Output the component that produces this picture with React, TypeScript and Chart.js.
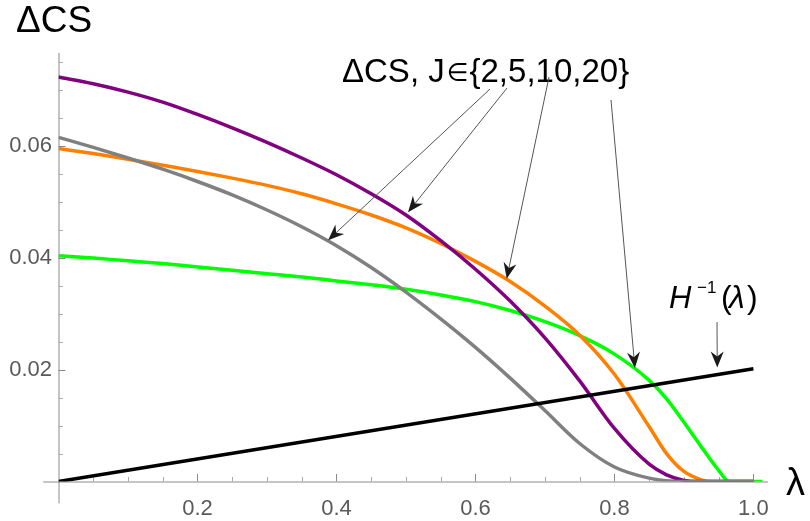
import { useEffect, useRef } from "react";
import { Chart, registerables } from "chart.js";

Chart.register(...registerables);

// ---- data ----
const xTickValues = [0.2, 0.4, 0.6, 0.8, 1.0];
const xTickLabels = ["0.2", "0.4", "0.6", "0.8", "1.0"];
const yTickValues = [0.02, 0.04, 0.06];
const yTickLabels = ["0.02", "0.04", "0.06"];

const grayX = [0, 0.05, 0.1, 0.15, 0.2, 0.25, 0.3, 0.35, 0.4, 0.45, 0.5, 0.55, 0.6, 0.65, 0.7, 0.75, 0.8, 0.85, 0.88, 0.9, 1.0];
const grayY = [0.0616, 0.0598, 0.0579, 0.0559, 0.0537, 0.0513, 0.0486, 0.0456, 0.0422, 0.0383, 0.0339, 0.0291, 0.024, 0.0185, 0.0127, 0.0068, 0.0026, 0.0006, 0.0001, 0, 0];

const purpleX = [0, 0.05, 0.1, 0.15, 0.2, 0.25, 0.3, 0.35, 0.4, 0.45, 0.5, 0.55, 0.6, 0.65, 0.7, 0.75, 0.8, 0.85, 0.875, 0.9, 0.92, 1.0];
const purpleY = [0.0724, 0.0712, 0.0697, 0.0679, 0.0657, 0.0633, 0.0607, 0.0579, 0.0549, 0.0515, 0.0477, 0.0431, 0.038, 0.0323, 0.0257, 0.018, 0.0095, 0.0031, 0.0012, 0.0002, 0, 0];

const orangeX = [0, 0.05, 0.1, 0.15, 0.2, 0.25, 0.3, 0.35, 0.4, 0.45, 0.5, 0.55, 0.6, 0.65, 0.7, 0.75, 0.8, 0.85, 0.875, 0.9, 0.925, 0.94, 1.0];
const orangeY = [0.0596, 0.0587, 0.0577, 0.0566, 0.0555, 0.0543, 0.053, 0.0515, 0.0497, 0.0477, 0.0454, 0.0426, 0.0394, 0.0358, 0.0314, 0.0262, 0.0192, 0.0098, 0.005, 0.0018, 0.0003, 0, 0];

const greenX = [0, 0.05, 0.1, 0.15, 0.2, 0.25, 0.3, 0.35, 0.4, 0.45, 0.5, 0.55, 0.6, 0.65, 0.7, 0.75, 0.8, 0.85, 0.875, 0.9, 0.925, 0.95, 0.965, 1.013];
const greenY = [0.0404, 0.04, 0.0395, 0.039, 0.0384, 0.0378, 0.0372, 0.0366, 0.0359, 0.0352, 0.0344, 0.0334, 0.0322, 0.0306, 0.0286, 0.0261, 0.0228, 0.0181, 0.0148, 0.0106, 0.0062, 0.002, 0, 0];

const hInvX = [0, 1.0];
const hInvY = [0, 0.0202];

// annotation arrows: tip on a curve (data coords)
const arrowTips = [
  [0.388, 0.0432],
  [0.503, 0.0482],
  [0.645, 0.0363],
  [0.8295, 0.0203],
  [0.948, 0.0204],
];

const FONT = "'Liberation Sans', Arial, sans-serif";

function pts(xs: number[], ys: number[]) {
  return xs.map((x, i) => ({ x, y: ys[i] }));
}

const axesPlugin = {
  id: "mmaAxes",
  beforeDatasetsDraw(chart: any) {
    const ctx = chart.ctx;
    const xs = chart.scales.x;
    const ys = chart.scales.y;
    const x0 = xs.getPixelForValue(0);
    const y0 = ys.getPixelForValue(0);
    ctx.save();
    ctx.lineWidth = 1;
    ctx.strokeStyle = "#8a8a8a";
    ctx.beginPath();
    ctx.moveTo(xs.getPixelForValue(-0.022), y0 + 0.5);
    ctx.lineTo(xs.getPixelForValue(1.021), y0 + 0.5);
    ctx.stroke();
    ctx.beginPath();
    ctx.moveTo(x0 + 0.5, ys.getPixelForValue(-0.0039));
    ctx.lineTo(x0 + 0.5, ys.getPixelForValue(0.0767));
    ctx.stroke();
    for (let i = 1; i <= 20; i++) {
      const v = i * 0.05;
      const major = i % 4 === 0;
      const px = Math.round(xs.getPixelForValue(v)) + 0.5;
      ctx.strokeStyle = major ? "#8a8a8a" : "#a8a8a8";
      ctx.beginPath();
      ctx.moveTo(px, y0);
      ctx.lineTo(px, y0 - (major ? 7.5 : 4.5));
      ctx.stroke();
    }
    for (let i = 1; i <= 15; i++) {
      const v = i * 0.005;
      const major = i % 4 === 0;
      const py = Math.round(ys.getPixelForValue(v)) + 0.5;
      ctx.strokeStyle = major ? "#8a8a8a" : "#a8a8a8";
      ctx.beginPath();
      ctx.moveTo(x0, py);
      ctx.lineTo(x0 + (major ? 7 : 4.5), py);
      ctx.stroke();
    }
    ctx.restore();
  },
  afterDraw(chart: any) {
    const ctx = chart.ctx;
    const xs = chart.scales.x;
    const ys = chart.scales.y;
    ctx.save();
    ctx.fillStyle = "#000";
    ctx.textBaseline = "alphabetic";
    ctx.textAlign = "left";
    ctx.font = `37px ${FONT}`;
    ctx.fillText("ΔCS", 16, 32);
    ctx.font = `38px ${FONT}`;
    ctx.fillText("λ", 786, 495);

    // "ΔCS, J∈{2,5,10,20}"
    let cx = 342;
    const by = 82;
    ctx.font = `33px ${FONT}`;
    ctx.fillText("ΔCS, J", cx, by);
    cx += ctx.measureText("ΔCS, J").width + 2;
    ctx.font = `25px 'DejaVu Sans', ${FONT}`;
    ctx.fillText("∈", cx, by - 1);
    cx += ctx.measureText("∈").width + 1;
    ctx.font = `33px ${FONT}`;
    ctx.fillText("{2,5,10,20}", cx, by);

    // H^-1(λ)
    ctx.font = `italic 31px ${FONT}`;
    ctx.fillText("H", 669, 308);
    ctx.font = `17px ${FONT}`;
    ctx.fillText("−1", 697, 293);
    ctx.font = `32px ${FONT}`;
    ctx.fillText("(", 721, 308);
    ctx.font = `italic 32px ${FONT}`;
    ctx.fillText("λ", 729, 308);
    ctx.font = `32px ${FONT}`;
    ctx.fillText(")", 747, 308);

    const tails = [
      [490, 89],
      [507, 88],
      [549, 77],
      [611, 100],
      [717, 322],
    ];
    arrowTips.forEach((t, i) => {
      const tx = xs.getPixelForValue(t[0]);
      const ty = ys.getPixelForValue(t[1]);
      const [sx, sy] = tails[i];
      const ang = Math.atan2(ty - sy, tx - sx);
      const L = 16;
      const W = 6.5;
      const N = 11;
      ctx.strokeStyle = "#555";
      ctx.lineWidth = 1;
      ctx.beginPath();
      ctx.moveTo(sx, sy);
      ctx.lineTo(tx - Math.cos(ang) * N, ty - Math.sin(ang) * N);
      ctx.stroke();
      const c = Math.cos(ang), s = Math.sin(ang);
      const bx = tx - c * L, by2 = ty - s * L;
      ctx.fillStyle = "#1a1a1a";
      ctx.beginPath();
      ctx.moveTo(tx, ty);
      ctx.lineTo(bx - s * W, by2 + c * W);
      ctx.lineTo(tx - c * N, ty - s * N);
      ctx.lineTo(bx + s * W, by2 - c * W);
      ctx.closePath();
      ctx.fill();
    });
    ctx.restore();
  },
};

export default function App() {
  const ref = useRef<HTMLCanvasElement | null>(null);
  useEffect(() => {
    if (!ref.current) return;
    const lw = 3.5;
    const common = { pointRadius: 0, borderWidth: lw, cubicInterpolationMode: "monotone" as const, fill: false };
    const chart = new Chart(ref.current, {
      type: "line",
      data: {
        datasets: [
          { ...common, label: "H^-1(λ)", data: pts(hInvX, hInvY), borderColor: "#000000" },
          { ...common, label: "J=2", data: pts(grayX, grayY), borderColor: "#808080" },
          { ...common, label: "J=5", data: pts(purpleX, purpleY), borderColor: "#800080" },
          { ...common, label: "J=10", data: pts(orangeX, orangeY), borderColor: "#ff8000" },
          { ...common, label: "J=20", data: pts(greenX, greenY), borderColor: "#00ff00" },
        ],
      },
      options: {
        animation: false,
        responsive: false,
        devicePixelRatio: 1,
        layout: { padding: { top: 53, right: 42, left: 0, bottom: 0 } },
        plugins: { legend: { display: false }, tooltip: { enabled: false } },
        scales: {
          x: {
            type: "linear",
            min: 0,
            max: 1.021,
            grid: { display: false, drawTicks: false },
            border: { display: false },
            ticks: {
              color: "#5a5a5a",
              font: { family: FONT, size: 22 },
              padding: 14,
              autoSkip: false,
              maxRotation: 0,
              callback: (_v: any, i: number) => xTickLabels[i],
            },
            afterBuildTicks: (s: any) => {
              s.ticks = xTickValues.map((v) => ({ value: v }));
            },
            afterFit: (s: any) => {
              s.height = 39.5;
            },
          },
          y: {
            type: "linear",
            min: 0,
            max: 0.0767,
            grid: { display: false, drawTicks: false },
            border: { display: false },
            ticks: {
              color: "#5a5a5a",
              font: { family: FONT, size: 22 },
              padding: 6.5,
              autoSkip: false,
              callback: (_v: any, i: number) => yTickLabels[i],
            },
            afterBuildTicks: (s: any) => {
              s.ticks = yTickValues.map((v) => ({ value: v }));
            },
            afterFit: (s: any) => {
              s.width = 58.5;
            },
          },
        },
      },
      plugins: [axesPlugin],
    });
    return () => chart.destroy();
  }, []);
  return (
    <div style={{ position: "absolute", left: 0, top: 0, width: 810, height: 521, background: "#fff" }}>
      <canvas ref={ref} width={810} height={521} style={{ display: "block" }} />
    </div>
  );
}
